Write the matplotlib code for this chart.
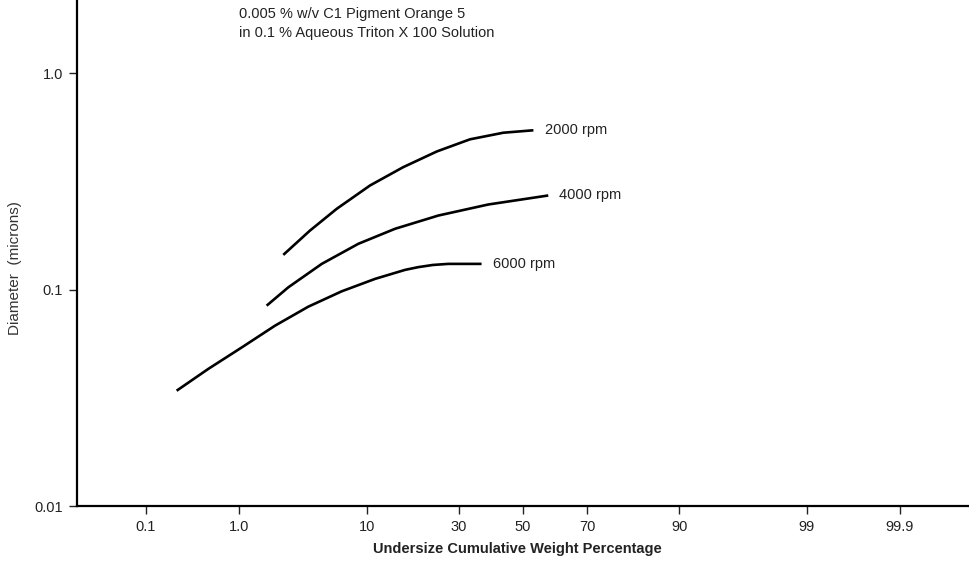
import math
import numpy as np
import matplotlib
matplotlib.use('Agg')
import matplotlib.pyplot as plt
from statistics import NormalDist

# x = undersize cumulative weight %, y = diameter (microns)
pct_2000 = [2.47, 4.04, 6.34, 10.5, 16.3, 24.0, 33.2, 43.6, 53.4]
dia_2000 = [0.1447, 0.1875, 0.2363, 0.303, 0.368, 0.435, 0.495, 0.531, 0.545]

pct_4000 = [1.78, 2.72, 4.95, 8.85, 14.7, 24.4, 38.8, 58.2]
dia_4000 = [0.0843, 0.1025, 0.1315, 0.1628, 0.191, 0.220, 0.2474, 0.2723]

pct_6000 = [0.226, 0.494, 1.06, 2.10, 3.92, 6.86, 11.26, 16.7, 19.5, 23.0, 27.0, 36.7]
dia_6000 = [0.0341, 0.0430, 0.0541, 0.0681, 0.0834, 0.0982, 0.1121, 0.1234, 0.127, 0.130, 0.1315, 0.1315]

curve_labels = ['2000 rpm', '4000 rpm', '6000 rpm']

x_ticks = [0.1, 1.0, 10, 30, 50, 70, 90, 99, 99.9]
x_tick_labels = ['0.1', '1.0', '10', '30', '50', '70', '90', '99', '99.9']
y_ticks = [0.01, 0.1, 1.0]
y_tick_labels = ['0.01', '0.1', '1.0']

note_lines = ['0.005 % w/v C1 Pigment Orange 5',
              'in 0.1 % Aqueous Triton X 100 Solution']

_nd = NormalDist()
_ppf = np.vectorize(lambda p: _nd.inv_cdf(min(max(p / 100.0, 1e-9), 1 - 1e-9)),
                    otypes=[float])
_cdf = np.vectorize(lambda z: 50.0 * (1.0 + math.erf(z / math.sqrt(2.0))),
                    otypes=[float])


def prob_forward(p):
    return _ppf(np.asarray(p, dtype=float))


def prob_inverse(z):
    return _cdf(np.asarray(z, dtype=float))


plt.rcParams['font.family'] = ['Liberation Sans', 'DejaVu Sans']

fig = plt.figure(figsize=(9.69, 5.61), dpi=100)
ax = fig.add_axes([77 / 969, 1 - 506 / 561, 1 - 77 / 969, 506 / 561])

ax.set_xscale('function', functions=(prob_forward, prob_inverse))
ax.set_yscale('log')

series = [(pct_2000, dia_2000), (pct_4000, dia_4000), (pct_6000, dia_6000)]
for (px, dy), lab in zip(series, curve_labels):
    ax.plot(px, dy, color='black', lw=1.9, solid_capstyle='butt', solid_joinstyle='round')
    ax.annotate(lab, xy=(px[-1], dy[-1]), xytext=(8, 0), textcoords='offset points',
                va='center', ha='left', fontsize=10.5, color='#222222')

ax.set_xlim(float(prob_inverse(-3.656)), float(prob_inverse(3.656)))
ax.set_ylim(0.01, 2.18)

ax.set_xticks(x_ticks)
ax.set_xticklabels(x_tick_labels)
ax.set_yticks(y_ticks)
ax.set_yticklabels(y_tick_labels)
ax.minorticks_off()
ax.tick_params(axis='both', direction='out', length=6, width=1.0,
               labelsize=10.5, colors='#222222', pad=4)

for side in ('top', 'right'):
    ax.spines[side].set_visible(False)
for side in ('left', 'bottom'):
    ax.spines[side].set_linewidth(1.6)

fig.text(517 / 969, 1 - 549 / 561, 'Undersize Cumulative Weight Percentage',
         fontsize=10.5, fontweight='bold', color='#222222', ha='center', va='center')
fig.text(15 / 969, 1 - 268 / 561, 'Diameter  (microns)', rotation=90,
         va='center', ha='center', fontsize=11, color='#333333')

fig.text(239 / 969, 1 - 14 / 561, note_lines[0], fontsize=10.5, va='center', color='#222222')
fig.text(239 / 969, 1 - 33 / 561, note_lines[1], fontsize=10.5, va='center', color='#222222')

fig.savefig('out.png', dpi=100)
